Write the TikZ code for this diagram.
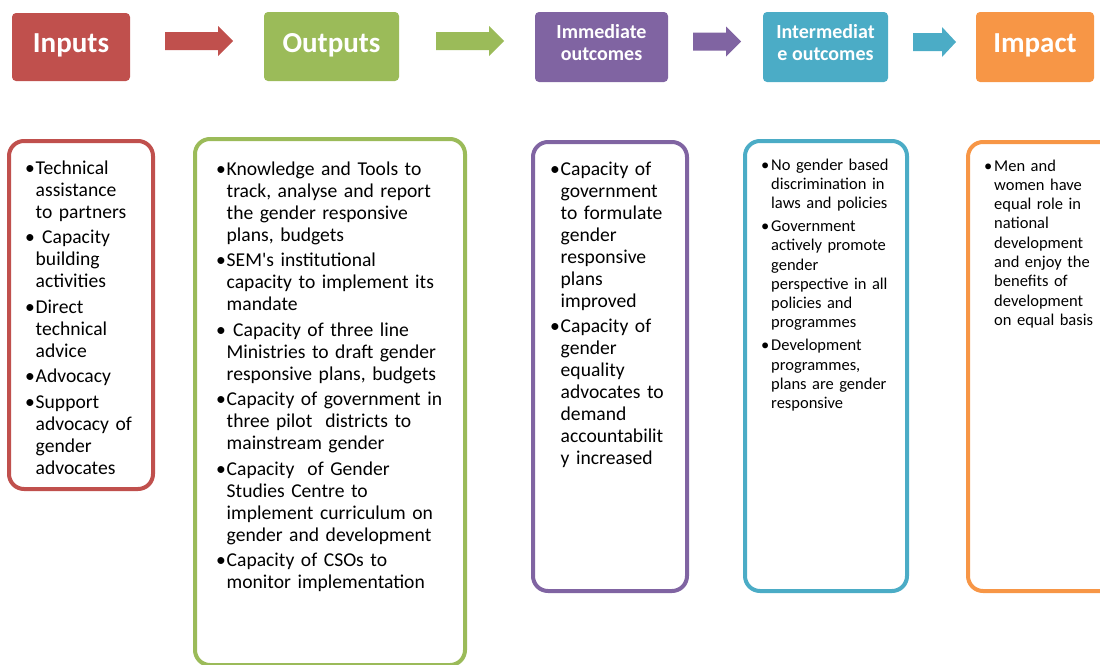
\documentclass[tikz,border=0pt]{standalone}
\usepackage{fontspec}
\setmainfont{Carlito}[Ligatures=TeXOff]
\usetikzlibrary{calc}

\definecolor{cin}{HTML}{C0504D}
\definecolor{cout}{HTML}{9BBB59}
\definecolor{cimm}{HTML}{8064A2}
\definecolor{cint}{HTML}{4BACC6}
\definecolor{cimp}{HTML}{F79646}

% bullet paragraph: text indented by \bulw, bullet hung in the margin
\newlength\bulw
\newcommand\bul[1]{\leftskip=\bulw\noindent\hbox to 0pt{\hss\makebox[\bulw][l]{•}}#1\par}

% block arrow: start x, tip x, head x, centre y, colour
\newcommand\blockarrow[5]{%
  \fill[#5] (#1,#4-9) -- (#3,#4-9) -- (#3,#4-15) -- (#2,#4)
            -- (#3,#4+15) -- (#3,#4+9) -- (#1,#4+9) -- cycle;}

\tikzset{
  headbox/.style={fill=#1, rounded corners=4pt, inner sep=0pt, outer sep=0pt,
    anchor=north west},
  headtext/.style={text=white, align=center, inner sep=0pt},
  bighead/.style={headtext, font=\bfseries\fontsize{29}{32}\selectfont},
  smallhead/.style={headtext, font=\bfseries\fontsize{20}{22}\selectfont},
  listbox/.style={draw=#1, line width=4pt, rounded corners=15pt,
    inner sep=0pt, outer sep=0pt, anchor=north west},
  bigtext/.style={anchor=base west, inner sep=0pt, text width=#1,
    font={\fontsize{19.6}{22}\selectfont\setlength\parskip{3.5pt}\setlength\bulw{10.5pt}}},
  smalltext/.style={anchor=base west, inner sep=0pt, text width=#1,
    font={\fontsize{16.5}{19.3}\selectfont\setlength\parskip{3.5pt}\setlength\bulw{10pt}}},
}

\begin{document}
\begin{tikzpicture}[x=1pt, y=-1pt]
\useasboundingbox (0,0) rectangle (1100,664);

% header row
\node[headbox=cin, minimum width=118pt, minimum height=68pt] (hin) at (12,13) {};
\node[headbox=cout, minimum width=135pt, minimum height=69pt] (hout) at (264,12) {};
\node[headbox=cimm, minimum width=133pt, minimum height=70pt] (himm) at (535,12) {};
\node[headbox=cint, minimum width=125pt, minimum height=70pt] (hint) at (763,12) {};
\node[headbox=cimp, minimum width=118pt, minimum height=70pt] (himp) at (976,12) {};

\node[bighead] (hinl) at ($(hin.center)+(0,-1.5)$) {Inputs};
\node[bighead] (houtl) at ($(hout.center)+(0,-1.5)$) {Outputs};
\node[smallhead] (himml) at ($(himm.center)+(0,-4)$) {Immediate\\outcomes};
\node[smallhead] (hintl) at ($(hint.center)+(0,-4)$) {Intermediat\\e outcomes};
\node[bighead] (himpl) at ($(himp.center)+(0,-1.5)$) {Impact};

% arrows between the headers
\blockarrow{165}{233}{218}{41}{cin}
\blockarrow{436}{504}{489}{41}{cout}
\blockarrow{693}{741}{726}{41.5}{cimm}
\blockarrow{913}{956}{942}{42}{cint}

% list frames
\node[listbox=cin, minimum width=144pt, minimum height=348pt] (lin) at (9,141) {};
\node[listbox=cout, minimum width=270pt, minimum height=526pt] (lout) at (195,139) {};
\node[listbox=cimm, minimum width=154pt, minimum height=449pt] (limm) at (533,142) {};
\node[listbox=cint, minimum width=162pt, minimum height=450pt] (lint) at (745,141) {};
\node[listbox=cimp, minimum width=150pt, minimum height=449pt] (limp) at (968,142) {};

% list contents
\node[bigtext=125pt] (tin) at (25,174) {%
  \bul{Technical\\assistance\\to partners}%
  \bul{\ Capacity\\building\\activities}%
  \bul{Direct\\technical\\advice}%
  \bul{Advocacy}%
  \bul{Support\\advocacy of\\gender\\advocates}};

\node[bigtext=245pt] (tout) at (216,175) {%
  \bul{Knowledge and Tools to\\track, analyse and report\\the gender responsive\\plans, budgets}%
  \bul{SEM's institutional\\capacity to implement its\\mandate}%
  \bul{\ Capacity of three line\\Ministries to draft gender\\responsive plans, budgets}%
  \bul{Capacity of government in\\three pilot\ \ districts to\\mainstream gender}%
  \bul{Capacity\ \ of Gender\\Studies Centre to\\implement curriculum on\\gender and development}%
  \bul{Capacity of CSOs to\\monitor implementation}};

\node[bigtext=135pt] (timm) at (550,175) {%
  \bul{Capacity of\\government\\to formulate\\gender\\responsive\\plans\\improved}%
  \bul{Capacity of\\gender\\equality\\advocates to\\demand\\accountabilit\\y increased}};

\node[smalltext=140pt] (tint) at (761,170) {%
  \bul{No gender based\\discrimination in\\laws and policies}%
  \bul{Government\\actively promote\\gender\\perspective in all\\policies and\\programmes}%
  \bul{Development\\programmes,\\plans are gender\\responsive}};

\node[smalltext=140pt] (timp) at (984,171) {%
  \bul{Men and\\women have\\equal role in\\national\\development\\and enjoy the\\benefits of\\development\\on equal basis}};
\end{tikzpicture}
\end{document}
